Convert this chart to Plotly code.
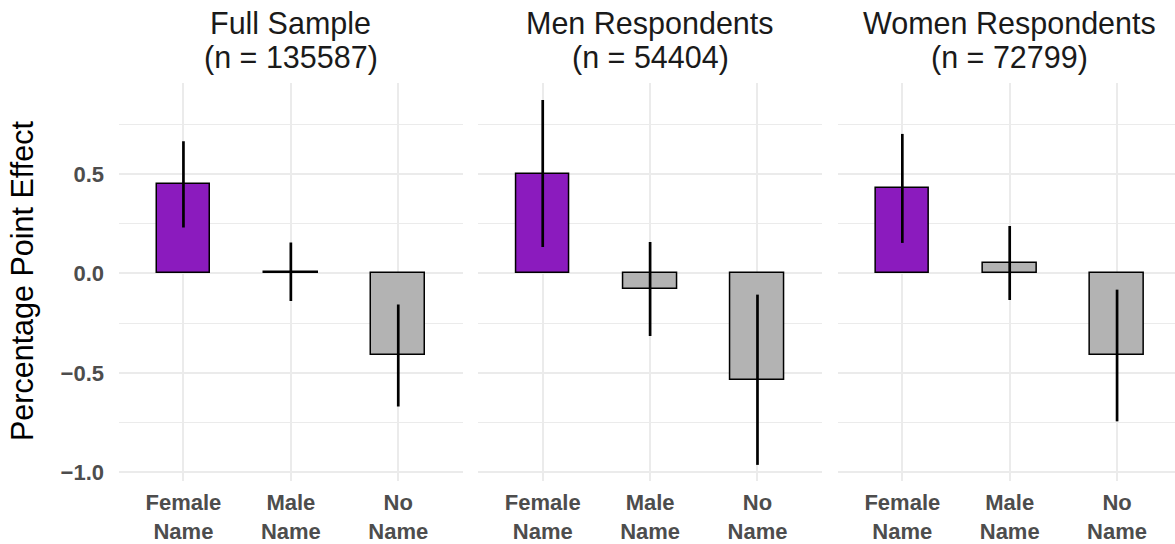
import plotly.graph_objects as go

categories = ["Female Name", "Male Name", "No Name"]
tick_labels = ["Female<br>Name", "Male<br>Name", "No<br>Name"]
panel_titles = ["Full Sample", "Men Respondents", "Women Respondents"]
panel_n = ["(n = 135587)", "(n = 54404)", "(n = 72799)"]

full_effect = [0.447, 0.008, -0.413]
full_ci = [0.217, 0.147, 0.257]
men_effect = [0.502, -0.079, -0.535]
men_ci = [0.370, 0.236, 0.428]
women_effect = [0.427, 0.052, -0.413]
women_ci = [0.274, 0.186, 0.331]

y_tickvals = [-1.0, -0.5, 0.0, 0.5]
y_ticktext = ["\u22121.0", "\u22120.5", "0.0", "0.5"]

bar_colors = ["#8B1BBE", "#B3B3B3", "#B3B3B3"]

W, H = 1175, 544
ML, MT, MR = 119, 83, 0
MB = H - 481
PW = W - ML - MR
PH = H - MT - MB

def px2x(px):
    return (px - ML) / PW

def py2y(py):
    return (H - MB - py) / PH

domains = [
    [px2x(119), px2x(462.7)],
    [px2x(478.3), px2x(821.9)],
    [px2x(837.9), 1.0],
]
unit = 343.6 / 3.2
x_ranges = [[-0.6, 2.6], [-0.6, 2.6], [-0.6, -0.6 + (W - 837.9) / unit]]

fig = go.Figure()
series = [(full_effect, full_ci), (men_effect, men_ci), (women_effect, women_ci)]
font_family = "Liberation Sans, Arial, sans-serif"

for i, (eff, ci) in enumerate(series):
    xa = "x" if i == 0 else f"x{i+1}"
    fig.add_trace(go.Bar(
        x=categories, y=eff, xaxis=xa, yaxis="y",
        width=0.5,
        marker=dict(color=bar_colors, line=dict(color="black", width=1.5)),
        error_y=dict(type="data", array=ci, visible=True, thickness=2.7,
                     width=0, color="black"),
        showlegend=False,
    ))

layout = dict(
    width=W, height=H,
    margin=dict(l=ML, r=MR, t=MT, b=MB, pad=0, autoexpand=False),
    plot_bgcolor="white", paper_bgcolor="white",
    font=dict(family=font_family),
    bargap=0,
    yaxis=dict(
        range=[-1.044, 0.957], tickmode="array", tickvals=y_tickvals,
        ticktext=y_ticktext, showgrid=True, gridcolor="#EBEBEB", gridwidth=2,
        zeroline=False, showline=False, ticks="",
        tickfont=dict(size=22, color="#4D4D4D", family=font_family, weight="bold"),
        ticklabelstandoff=14,
        minor=dict(tick0=0.25, dtick=0.5, showgrid=True, gridcolor="#EBEBEB",
                   gridwidth=1.2, ticks=""),
        fixedrange=True,
    ),
)
for i in range(3):
    key = "xaxis" if i == 0 else f"xaxis{i+1}"
    layout[key] = dict(
        domain=domains[i], range=x_ranges[i], anchor="y",
        type="category", tickmode="array", tickvals=categories, ticktext=tick_labels,
        showgrid=True, gridcolor="#EBEBEB", gridwidth=2,
        zeroline=False, showline=False, ticks="",
        tickfont=dict(size=22, color="#4D4D4D", family=font_family, weight="bold"),
        ticklabelstandoff=6,
    )
fig.update_layout(**layout)

annotations = []
for i in range(3):
    xr = "x" if i == 0 else f"x{i+1}"
    annotations.append(dict(
        x="Male Name", xref=xr, y=py2y(23.3), yref="paper", text=panel_titles[i],
        showarrow=False, xanchor="center", yanchor="middle",
        font=dict(size=30.5, color="#1A1A1A", family=font_family)))
    annotations.append(dict(
        x="Male Name", xref=xr, y=py2y(57), yref="paper", text=panel_n[i],
        showarrow=False, xanchor="center", yanchor="middle",
        font=dict(size=30.5, color="#1A1A1A", family=font_family)))
annotations.append(dict(
    x=px2x(22), xref="paper", y=py2y(281), yref="paper",
    text="Percentage Point Effect", textangle=-90, showarrow=False,
    xanchor="center", yanchor="middle",
    font=dict(size=30.5, color="black", family=font_family)))
fig.update_layout(annotations=annotations)

fig.write_html("out.html", config={"displayModeBar": False},
               post_script="document.body.style.margin='0px';")
